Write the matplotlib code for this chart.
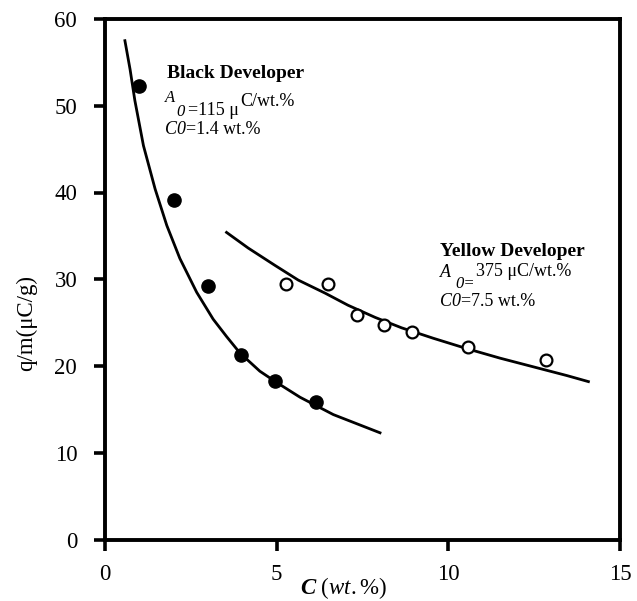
import matplotlib
matplotlib.use("Agg")
import matplotlib.pyplot as plt

plt.rcParams["font.family"] = ["Liberation Serif", "DejaVu Serif"]
plt.rcParams["mathtext.fontset"] = "custom"
plt.rcParams["mathtext.rm"] = "Liberation Serif"
plt.rcParams["mathtext.it"] = "Liberation Serif:italic"
plt.rcParams["mathtext.bf"] = "Liberation Serif:bold"
plt.rcParams["mathtext.bfit"] = "Liberation Serif:italic:bold"

# Measured charge-to-mass ratio vs toner concentration
black_c = [1.0, 2.0, 3.0, 3.95, 4.95, 6.15]
black_qm = [52.3, 39.1, 29.2, 21.3, 18.3, 15.8]
yellow_c = [5.27, 6.50, 7.33, 8.13, 8.94, 10.58, 12.84]
yellow_qm = [29.4, 29.5, 25.9, 24.7, 23.9, 22.2, 20.7]

# Fitted curves q/m = A0 / (C + C0)
black_fit_c = [0.58, 0.73, 0.87, 1.12, 1.46, 1.80, 2.18, 2.67, 3.15, 3.54,
               3.93, 4.51, 5.00, 5.68, 6.65, 8.01]
black_fit_qm = [57.5, 54.2, 50.6, 45.4, 40.4, 36.2, 32.4, 28.5, 25.4, 23.4,
                21.5, 19.4, 18.1, 16.4, 14.4, 12.3]
yellow_fit_c = [3.54, 4.17, 4.95, 5.63, 6.41, 7.08, 7.87, 8.64, 9.56, 10.54,
                11.51, 12.48, 13.45, 14.08]
yellow_fit_qm = [35.4, 33.6, 31.6, 29.9, 28.4, 27.0, 25.6, 24.4, 23.2, 22.0,
                 20.9, 19.9, 18.9, 18.2]

x_ticks = [0, 5, 10, 15]
y_ticks = [0, 10, 20, 30, 40, 50, 60]

W, H = 637, 601
fig = plt.figure(figsize=(W / 100, H / 100), dpi=100)
ax = fig.add_axes([105 / W, 1 - 539.5 / H, 515 / W, 520.5 / H])

ax.plot(black_fit_c, black_fit_qm, color="black", lw=2.0, zorder=2)
ax.plot(yellow_fit_c, yellow_fit_qm, color="black", lw=2.0, zorder=2)
ax.plot(black_c, black_qm, "o", color="black", ms=9.5, zorder=3)
ax.plot(yellow_c, yellow_qm, "o", mfc="white", mec="black", mew=1.6,
        ms=8.5, zorder=3)

ax.set_xlim(0, 15)
ax.set_ylim(0, 60)
ax.set_xticks(x_ticks)
ax.set_yticks(y_ticks)
for s in ax.spines.values():
    s.set_linewidth(2.8)
ax.tick_params(direction="out", length=8, width=2.6, labelsize=16.5)
ax.tick_params(axis="y", pad=12)
ax.tick_params(axis="x", pad=10)

# axis titles
fig.text(27 / W, 1 - 323 / H, "q/m(\u03bcC/g)", rotation=90,
         ha="center", va="center", fontsize=16.5)
fig.text(343 / W, 1 - 588 / H, r"$\mathbfit{C}$ ($\mathit{wt.\%}$)",
         ha="center", va="center", fontsize=16.5)


def px(x, y, s, **kw):
    fig.text(x / W, 1 - y / H, s, va="baseline", ha="left", **kw)


# Black developer annotation
px(167, 78, "Black Developer", fontsize=14, fontweight="bold")
px(165, 102, "A", fontsize=12, style="italic")
px(176, 116, "0", fontsize=12, style="italic")
px(188, 115, "=115 \u03bc", fontsize=13)
px(240, 106, "C/wt.%", fontsize=13)
px(165, 134, "C0", fontsize=13, style="italic")
px(186, 134, "=1.4 wt.%", fontsize=13)

# Yellow developer annotation
px(440, 256, "Yellow Developer", fontsize=14, fontweight="bold")
px(440, 277, "A", fontsize=13, style="italic")
px(455, 288, "0=", fontsize=12, style="italic")
px(476, 276, "375 \u03bcC/wt.%", fontsize=13)
px(440, 306, "C0", fontsize=13, style="italic")
px(461, 306, "=7.5 wt.%", fontsize=13)

fig.savefig("out.png", dpi=100)
